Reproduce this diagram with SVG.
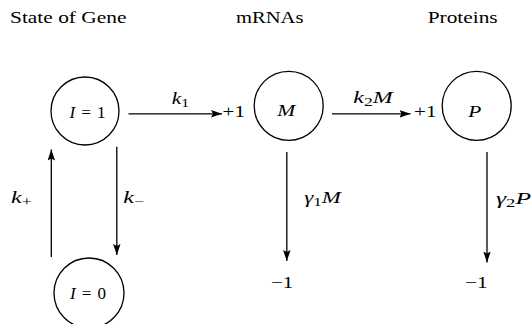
<svg xmlns="http://www.w3.org/2000/svg" width="532" height="324" viewBox="0 0 532 324" font-family="'Liberation Serif', 'DejaVu Serif', serif">
<style>
text{font-family:'Liberation Serif','DejaVu Serif',serif;font-size:17px;fill:#000;font-weight:normal}
.it{font-style:italic}
.sub{font-size:12.5px}
.node{fill:none;stroke:#000;stroke-width:1.3}
.edge{fill:none;stroke:#000;stroke-width:1.3}
</style>
<defs>
<marker id="ah" markerUnits="userSpaceOnUse" markerWidth="12" markerHeight="8" refX="11" refY="3.75" orient="auto">
<path d="M0,0 L11,3.75 L0,7.5 L2,3.75 z" fill="#000"/>
</marker>
</defs>
<rect width="532" height="324" fill="#fff"/>
<g id="headings">
<text x="10" y="23.3" textLength="116.5" lengthAdjust="spacingAndGlyphs">State of Gene</text>
<text x="236" y="23.3" textLength="67.5" lengthAdjust="spacingAndGlyphs">mRNAs</text>
<text x="427.7" y="23.3" textLength="70" lengthAdjust="spacingAndGlyphs">Proteins</text>
</g>
<g id="node-I1">
<circle class="node" cx="85" cy="111" r="34"/>
<text x="69.5" y="117.5" textLength="36" lengthAdjust="spacing"><tspan class="it">I</tspan>=1</text>
</g>
<g id="node-I0">
<circle class="node" cx="89" cy="293" r="35"/>
<text x="70" y="299.3" textLength="36" lengthAdjust="spacing"><tspan class="it">I</tspan>=0</text>
</g>
<g id="node-M">
<circle class="node" cx="288.7" cy="105.8" r="34.5"/>
<text x="277.3" y="116" class="it" textLength="18" lengthAdjust="spacingAndGlyphs">M</text>
</g>
<g id="node-P">
<circle class="node" cx="476.7" cy="105.8" r="34.5"/>
<text x="468.3" y="116.7" class="it" textLength="13" lengthAdjust="spacingAndGlyphs">P</text>
</g>
<g id="connectors">
<line class="edge" x1="128.5" y1="113.8" x2="222" y2="113.8" marker-end="url(#ah)"/>
<line class="edge" x1="332" y1="113.8" x2="410.5" y2="113.8" marker-end="url(#ah)"/>
<line class="edge" x1="51.3" y1="257" x2="51.3" y2="149.5" marker-end="url(#ah)"/>
<line class="edge" x1="116.8" y1="146.8" x2="116.8" y2="255" marker-end="url(#ah)"/>
<line class="edge" x1="286.8" y1="152" x2="286.8" y2="261" marker-end="url(#ah)"/>
<line class="edge" x1="487" y1="152" x2="487" y2="262.5" marker-end="url(#ah)"/>
</g>
<g id="labels">
<text x="171.7" y="104" textLength="17.3" lengthAdjust="spacingAndGlyphs"><tspan class="it">k</tspan><tspan class="sub" dy="3">1</tspan></text>
<text x="353.3" y="103.3" textLength="39.4" lengthAdjust="spacingAndGlyphs"><tspan class="it">k</tspan><tspan class="sub" dy="3">2</tspan><tspan class="it" dy="-3">M</tspan></text>
<text x="222.5" y="117.3" textLength="22.5" lengthAdjust="spacingAndGlyphs">+1</text>
<text x="414" y="116.9" textLength="22.5" lengthAdjust="spacingAndGlyphs">+1</text>
<text x="11" y="203.3" textLength="20.7" lengthAdjust="spacingAndGlyphs"><tspan class="it">k</tspan><tspan class="sub" dy="3">+</tspan></text>
<text x="123.3" y="203.3" textLength="20.7" lengthAdjust="spacingAndGlyphs"><tspan class="it">k</tspan><tspan class="sub" dy="3">−</tspan></text>
<text x="304.3" y="203.3" textLength="36.7" lengthAdjust="spacingAndGlyphs"><tspan class="it">γ</tspan><tspan class="sub" dy="3">1</tspan><tspan class="it" dy="-3">M</tspan></text>
<text x="496" y="203.7" textLength="35" lengthAdjust="spacingAndGlyphs"><tspan class="it">γ</tspan><tspan class="sub" dy="3">2</tspan><tspan class="it" dy="-3">P</tspan></text>
<text x="271" y="288" textLength="22.3" lengthAdjust="spacingAndGlyphs">−1</text>
<text x="465" y="288" textLength="22.7" lengthAdjust="spacingAndGlyphs">−1</text>
</g>
</svg>
